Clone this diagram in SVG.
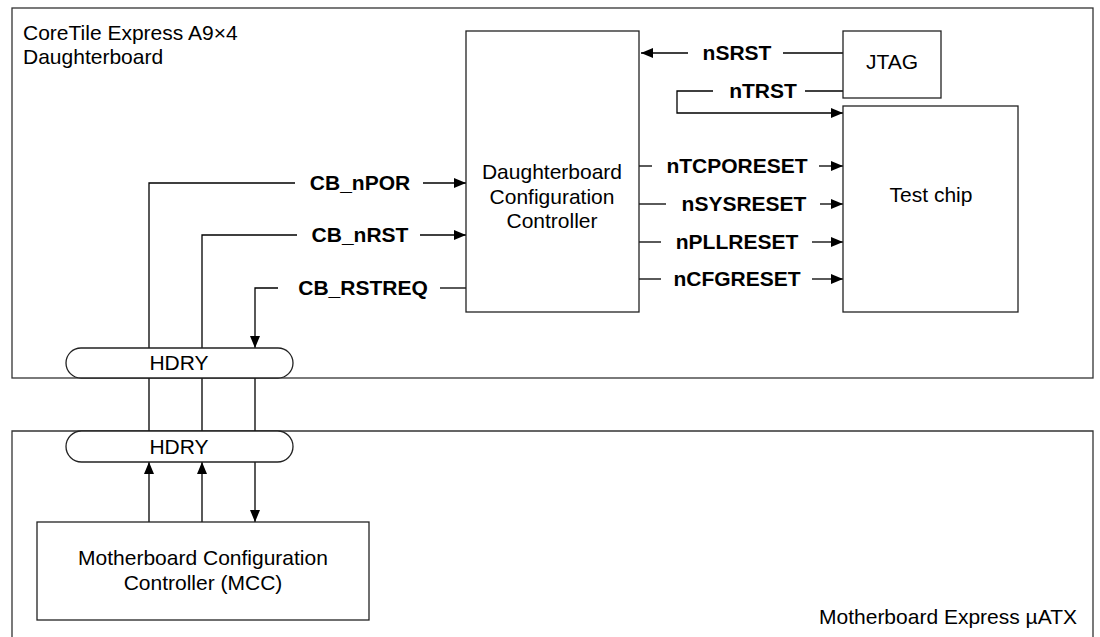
<svg xmlns="http://www.w3.org/2000/svg" width="1100" height="637" viewBox="0 0 1100 637">
<style>
text{font-family:"Liberation Sans",Arial,sans-serif;font-size:21px;fill:#000}
.b{font-weight:bold}
.m{text-anchor:middle}
.box{fill:#fff;stroke:#222;stroke-width:1.3}
.board{fill:none;stroke:#333;stroke-width:1.3}
.ln{fill:none;stroke:#000;stroke-width:1.3}
.arr{marker-end:url(#ah)}
</style>
<defs>
<marker id="ah" markerUnits="userSpaceOnUse" markerWidth="12" markerHeight="10" refX="12" refY="5" orient="auto">
<path d="M0,0 L12,5 L0,10 z" fill="#000"/>
</marker>
</defs>
<g id="daughterboard">
<rect class="board" x="12" y="8" width="1081" height="370"/>
<text x="23" y="40">CoreTile Express A9×4</text>
<text x="23" y="64">Daughterboard</text>
</g>
<g id="motherboard">
<path class="board" d="M12,637 V431 H1093 V637"/>
<text x="1077" y="624" text-anchor="end">Motherboard Express µATX</text>
</g>
<g id="connectors">
<path class="ln arr" d="M688,53 H641"/>
<path class="ln" d="M783,53 H843"/>
<path class="ln" d="M843,91 H805"/>
<path class="ln arr" d="M713,91 H677 V113 H843"/>
<path class="ln" d="M639,166 H652"/>
<path class="ln arr" d="M819,166 H843"/>
<path class="ln" d="M639,204 H666"/>
<path class="ln arr" d="M820,204 H843"/>
<path class="ln" d="M639,242 H661"/>
<path class="ln arr" d="M812,242 H843"/>
<path class="ln" d="M639,279 H661"/>
<path class="ln arr" d="M812,279 H843"/>
<path class="ln" d="M149,462 V183 H295"/>
<path class="ln arr" d="M423,183 H466"/>
<path class="ln" d="M202,462 V235 H297"/>
<path class="ln arr" d="M420,235 H466"/>
<path class="ln" d="M440,288 H466"/>
<path class="ln arr" d="M278,288 H255 V348"/>
<path class="ln arr" d="M255,378 V522"/>
<path class="ln arr" d="M149,522 V462"/>
<path class="ln arr" d="M202,522 V462"/>
<g class="b m">
<text class="b m" x="737" y="60">nSRST</text>
<text class="b m" x="763" y="98">nTRST</text>
<text class="b m" x="737" y="173">nTCPORESET</text>
<text class="b m" x="744" y="211">nSYSRESET</text>
<text class="b m" x="737" y="249">nPLLRESET</text>
<text class="b m" x="737" y="286">nCFGRESET</text>
<text class="b m" x="360" y="190">CB_nPOR</text>
<text class="b m" x="360" y="242">CB_nRST</text>
<text class="b m" x="363" y="295">CB_RSTREQ</text>
</g>
</g>
<g id="dcc">
<rect class="box" x="466" y="31" width="173" height="281"/>
<text class="m" x="552" y="179">Daughterboard</text>
<text class="m" x="552" y="204">Configuration</text>
<text class="m" x="552" y="228">Controller</text>
</g>
<g id="jtag">
<rect class="box" x="843" y="31" width="98" height="67"/>
<text class="m" x="892" y="69">JTAG</text>
</g>
<g id="testchip">
<rect class="box" x="843" y="106" width="175" height="206"/>
<text class="m" x="931" y="202">Test chip</text>
</g>
<g id="hdry-top">
<rect class="box" x="66" y="348" width="227" height="30" rx="15"/>
<text class="m" x="179" y="370">HDRY</text>
</g>
<g id="hdry-bottom">
<rect class="box" x="66" y="431" width="227" height="31" rx="15.5"/>
<text class="m" x="179" y="454">HDRY</text>
</g>
<g id="mcc">
<rect class="box" x="37" y="522" width="332" height="98"/>
<text class="m" x="203" y="565">Motherboard Configuration</text>
<text class="m" x="203" y="590">Controller (MCC)</text>
</g>
</svg>
